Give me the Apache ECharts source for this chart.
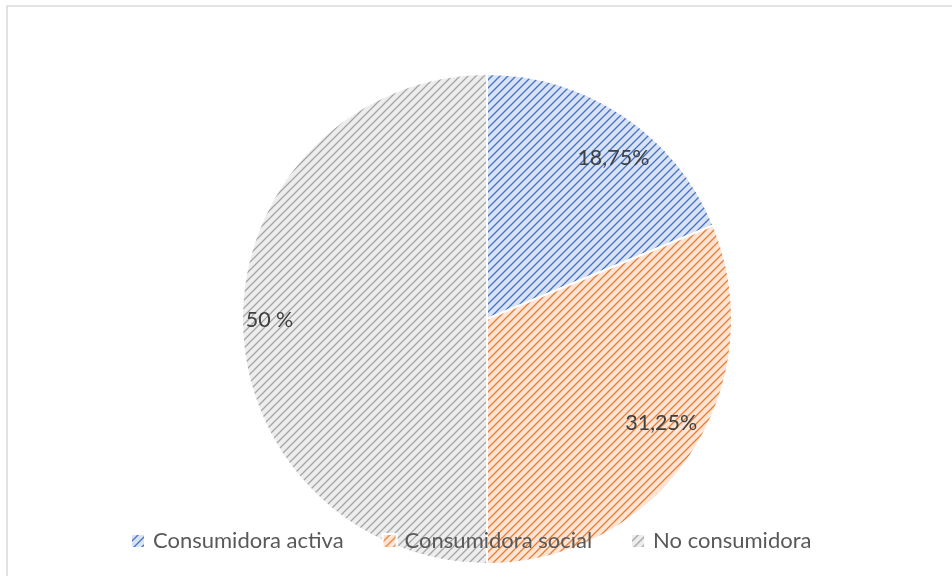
<!DOCTYPE html>
<html>
<head>
<meta charset="utf-8">
<script src="https://cdn.jsdelivr.net/npm/echarts@6/dist/echarts.min.js"></script>
<style>html,body{margin:0;padding:0;background:#fff}#c{width:952px;height:576px}</style>
</head>
<body>
<div id="c"></div>
<script>
const categories = ['Consumidora activa', 'Consumidora social', 'No consumidora'];
const values = [18.75, 31.25, 50];
const valueLabels = ['18,75%', '31,25%', '50 %'];
const lineColors = ['#4472C4', '#ED7D31', '#A5A5A5'];
const bgColors = ['#DAE3F3', '#FBE5D6', '#EDEDED'];
const labelOffsets = [[10, 13], [0, -12], [-8, 1]];

function hatch(bg, fg) {
  const s = 8;
  const cv = document.createElement('canvas');
  cv.width = s; cv.height = s;
  const ctx = cv.getContext('2d');
  ctx.fillStyle = bg; ctx.fillRect(0, 0, s, s);
  ctx.strokeStyle = fg; ctx.lineWidth = 1.3;
  ctx.beginPath();
  ctx.moveTo(-1, s + 1); ctx.lineTo(s + 1, -1);
  ctx.moveTo(-1, 1); ctx.lineTo(1, -1);
  ctx.moveTo(s - 1, s + 1); ctx.lineTo(s + 1, s - 1);
  ctx.stroke();
  return { image: cv, repeat: 'repeat' };
}

const chart = echarts.init(document.getElementById('c'), null, { renderer: 'canvas' });
const data = categories.map((n, i) => ({
  name: n, value: values[i],
  itemStyle: { color: hatch(bgColors[i], lineColors[i]) }
}));
const labelData = categories.map((n, i) => ({
  name: n, value: values[i],
  label: { formatter: valueLabels[i], offset: labelOffsets[i] }
}));

chart.setOption({
  animation: false,
  graphic: [{
    type: 'rect', shape: { x: 7, y: 6, width: 980, height: 620 },
    style: { fill: 'none', stroke: '#D9D9D9', lineWidth: 1.5 }, z: 0
  }],
  legend: {
    data: categories,
    left: 130, top: 530, padding: 0,
    itemWidth: 14, itemHeight: 14, itemGap: 38,
    icon: 'rect',
    textStyle: { fontFamily: 'Lato', fontSize: 22, color: '#595959', padding: [0, 0, 0, 3] }
  },
  series: [{
    type: 'pie',
    center: [487, 319], radius: [0, 245],
    startAngle: 90, clockwise: true,
    silent: true,
    itemStyle: { borderColor: '#fff', borderWidth: 2 },
    label: { show: false }, labelLine: { show: false },
    data: data
  }, {
    type: 'pie',
    center: [487, 319], radius: [168, 245],
    startAngle: 90, clockwise: true,
    silent: true,
    legendHoverLink: false,
    itemStyle: { color: 'rgba(0,0,0,0)', borderWidth: 0 },
    label: { show: true, position: 'inside', fontFamily: 'Lato', fontSize: 21.5, color: '#404040' },
    labelLine: { show: false },
    data: labelData
  }]
});
</script>
</body>
</html>
